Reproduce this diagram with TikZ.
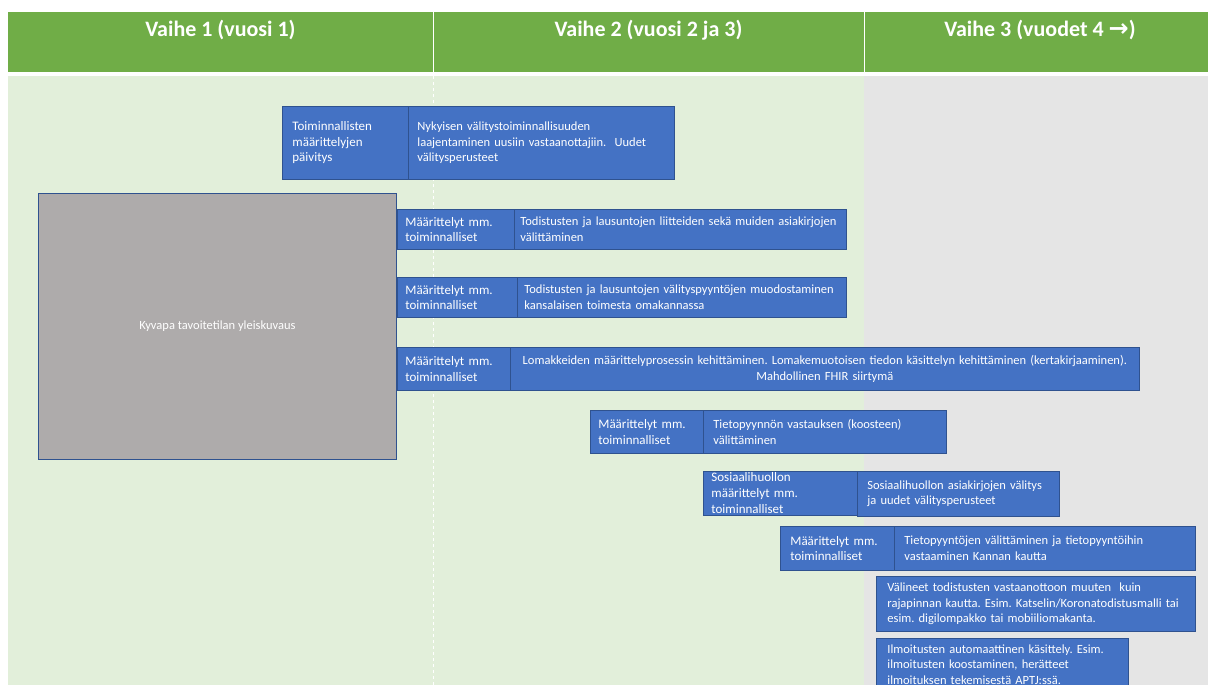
\documentclass[tikz,border=0pt]{standalone}
\usepackage{fontspec}
\setmainfont{Carlito}
\newfontfamily\arrowfont{DejaVu Sans}
\definecolor{hdrgreen}{HTML}{70AD47}
\definecolor{bodygreen}{HTML}{E2EFDA}
\definecolor{bodygrey}{HTML}{E5E5E5}
\definecolor{boxblue}{HTML}{4472C4}
\definecolor{boxedge}{HTML}{2F528F}
\definecolor{overview}{HTML}{AEABAB}
\frenchspacing
\hyphenpenalty=10000
\exhyphenpenalty=10000
\begin{document}
\begin{tikzpicture}[x=1pt,y=-1pt,
  hdr/.style={text=white,font=\fontsize{22}{24}\selectfont\bfseries,anchor=center},
  cell/.style={draw=boxedge,fill=boxblue,text=white,line width=0.8pt,
    anchor=north west,inner xsep=8pt,inner ysep=1pt,align=left},
  lefttxt/.style={cell,font=\fontsize{13}{15.5}\selectfont},
  righttxt/.style={cell,inner xsep=6pt,font=\fontsize{12.5}{15.5}\selectfont}]
% page and background bands
\useasboundingbox (0,0) rectangle (1208,685);
\fill[white] (0,0) rectangle (1208,685);
\fill[hdrgreen] (8,12) rectangle (1208,72);
\fill[bodygreen] (8,76) rectangle (864,685);
\fill[bodygrey] (864,76) rectangle (1208,685);
\draw[white,line width=1pt] (433,12) -- (433,72) (864,12) -- (864,72);
\draw[white,line width=0.6pt,dashed] (433,76) -- (433,685);

% phase headings
\node[hdr] (h1) at (220.5,30) {Vaihe 1 (vuosi 1)};
\node[hdr] (h2) at (648.5,30) {Vaihe 2 (vuosi 2 ja 3)};
\node[hdr] (h3) at (1040,30) {Vaihe 3 (vuodet 4 {\arrowfont\fontsize{24}{24}\selectfont\bfseries →})};

% overview block
\node[draw=boxedge,fill=overview,text=white,line width=0.8pt,anchor=north west,
  minimum width=358pt,minimum height=266pt,inner sep=0pt,
  font=\fontsize{12.5}{15}\selectfont] (overview) at (38,193) {Kyvapa tavoitetilan yleiskuvaus};

% update of functional specifications
\node[lefttxt,inner xsep=10pt,text width=106pt,minimum height=73pt] (t1l) at (282,106)
  {Toiminnallisten\\määrittelyjen\\päivitys};
\node[righttxt,inner xsep=9pt,text width=248pt,minimum height=73pt] (t1r) at (408,106)
  {Nykyisen välitystoiminnallisuuden\\laajentaminen uusiin vastaanottajiin.\ \ Uudet\\välitysperusteet};

% row A
\node[lefttxt,text width=101pt,minimum height=40pt] (al) at (397,209)
  {Määrittelyt mm.\\toiminnalliset};
\node[righttxt,text width=320pt,minimum height=40pt] (ar) at (514,209)
  {Todistusten ja lausuntojen liitteiden sekä muiden asiakirjojen\\välittäminen};

% row B
\node[lefttxt,text width=104pt,minimum height=40pt] (bl) at (397,277)
  {Määrittelyt mm.\\toiminnalliset};
\node[righttxt,inner xsep=7pt,text width=315pt,minimum height=40pt] (br) at (517,277)
  {Todistusten ja lausuntojen välityspyyntöjen muodostaminen\\kansalaisen toimesta omakannassa};

% row C
\node[lefttxt,text width=97pt,minimum height=43pt] (cl) at (397,347)
  {Määrittelyt mm.\\toiminnalliset};
\node[righttxt,align=center,inner xsep=3pt,text width=623pt,minimum height=43pt] (cr) at (510,347)
  {Lomakkeiden määrittelyprosessin kehittäminen. Lomakemuotoisen tiedon käsittelyn kehittäminen (kertakirjaaminen).\\Mahdollinen FHIR siirtymä};

% row D
\node[lefttxt,text width=97pt,minimum height=43pt] (dl) at (590,410)
  {Määrittelyt mm.\\toiminnalliset};
\node[righttxt,inner xsep=10pt,text width=223pt,minimum height=43pt] (dr) at (703,410)
  {Tietopyynnön vastauksen (koosteen)\\välittäminen};

% row E
\node[lefttxt,text width=138pt,minimum height=44pt,inner ysep=0pt,
  font=\fontsize{13}{16}\selectfont] (el) at (703,471)
  {Sosiaalihuollon\\määrittelyt mm.\\toiminnalliset};
\node[righttxt,inner xsep=10pt,text width=182pt,minimum height=45pt] (er) at (857,471)
  {Sosiaalihuollon asiakirjojen välitys\\ja uudet välitysperusteet};

% row F
\node[lefttxt,inner xsep=10pt,text width=94pt,minimum height=44pt] (fl) at (780,526)
  {Määrittelyt mm.\\toiminnalliset};
\node[righttxt,inner xsep=10pt,text width=281pt,minimum height=44pt] (fr) at (894,526)
  {Tietopyyntöjen välittäminen ja tietopyyntöihin\\vastaaminen Kannan kautta};

% stand-alone items
\node[righttxt,inner xsep=11pt,text width=297pt,minimum height=55pt] (g) at (876,576)
  {Välineet todistusten vastaanottoon muuten\ \ kuin\\rajapinnan kautta. Esim. Katselin/Koronatodistusmalli tai\\esim. digilompakko tai mobiiliomakanta.};
\node[righttxt,inner xsep=11pt,text width=230pt,minimum height=52pt] (h) at (876,638)
  {Ilmoitusten automaattinen käsittely. Esim.\\ilmoitusten koostaminen, herätteet\\ilmoituksen tekemisestä APTJ:ssä.};
\end{tikzpicture}
\end{document}
